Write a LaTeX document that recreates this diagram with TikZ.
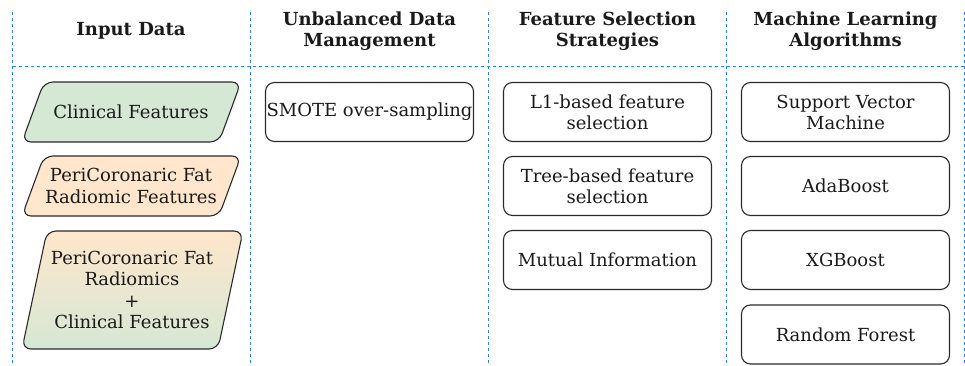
\documentclass[tikz,border=0pt]{standalone}
\usepackage{fontspec}
\setmainfont{DejaVu Serif}
\definecolor{lane}{HTML}{2B7FEF}
\definecolor{edge}{HTML}{2A2A2A}
\definecolor{greenfill}{HTML}{D5E8D4}
\definecolor{peachfill}{HTML}{FFE6CC}
\definecolor{txt}{HTML}{1A1A1A}
\begin{document}
\begin{tikzpicture}[x=1pt,y=-1pt,
  lanes/.style={draw=lane, line width=1pt, dash pattern=on 3pt off 3pt},
  box/.style={draw=edge, line width=1.1pt, rounded corners=9pt, minimum width=208pt, minimum height=59pt, inner sep=0pt, align=center, text=txt, font=\fontsize{18}{21}\selectfont},
  para/.style={draw=edge, line width=1.1pt, rounded corners=9pt},
  ptext/.style={align=center, text=txt, font=\fontsize{18}{21.5}\selectfont, inner sep=0pt},
  head/.style={align=center, text=txt, font=\bfseries\fontsize{18}{21}\selectfont, inner sep=0pt}]
\useasboundingbox (0,0) rectangle (965,366);
% lanes
\foreach \x in {12.5,250.5,488.5,726.5,964} \draw[lanes] (\x,12) -- (\x,366);
\draw[lanes] (12.5,67) -- (965,67);
% headers
\node[head] (h1) at (131,31) {Input Data};
\node[head] (h2) at (369.5,31) {Unbalanced Data\\Management};
\node[head] (h3) at (607.5,31) {Feature Selection\\Strategies};
\node[head] (h4) at (845.5,31) {Machine Learning\\Algorithms};
% input data parallelograms
\path[para, fill=greenfill] (44,82) -- (241,82) -- (219,142) -- (22,142) -- cycle;
\node[ptext] (clin) at (131,112) {Clinical Features};
\path[para, fill=peachfill] (44,156) -- (241,156) -- (219,216) -- (22,216) -- cycle;
\node[ptext] (rad) at (131,186) {PeriCoronaric Fat\\Radiomic Features};
\shade[top color=peachfill, bottom color=greenfill, rounded corners=9pt] (47,231) -- (243,231) -- (218,349) -- (22,349) -- cycle;
\path[para] (47,231) -- (243,231) -- (218,349) -- (22,349) -- cycle;
\node[ptext] (comb) at (132,290) {PeriCoronaric Fat\\Radiomics\\+\\Clinical Features};
% unbalanced
\node[box] (smote) at (369.5,112) {SMOTE over-sampling};
% feature selection
\node[box] (l1) at (607.5,112) {L1-based feature\\selection};
\node[box] (tree) at (607.5,186) {Tree-based feature\\selection};
\node[box] (mi) at (607.5,260) {Mutual Information};
% ML
\node[box] (svm) at (845.5,112) {Support Vector\\Machine};
\node[box] (ada) at (845.5,186) {AdaBoost};
\node[box] (xgb) at (845.5,260) {XGBoost};
\node[box] (rf) at (845.5,334.5) {Random Forest};
\end{tikzpicture}
\end{document}
